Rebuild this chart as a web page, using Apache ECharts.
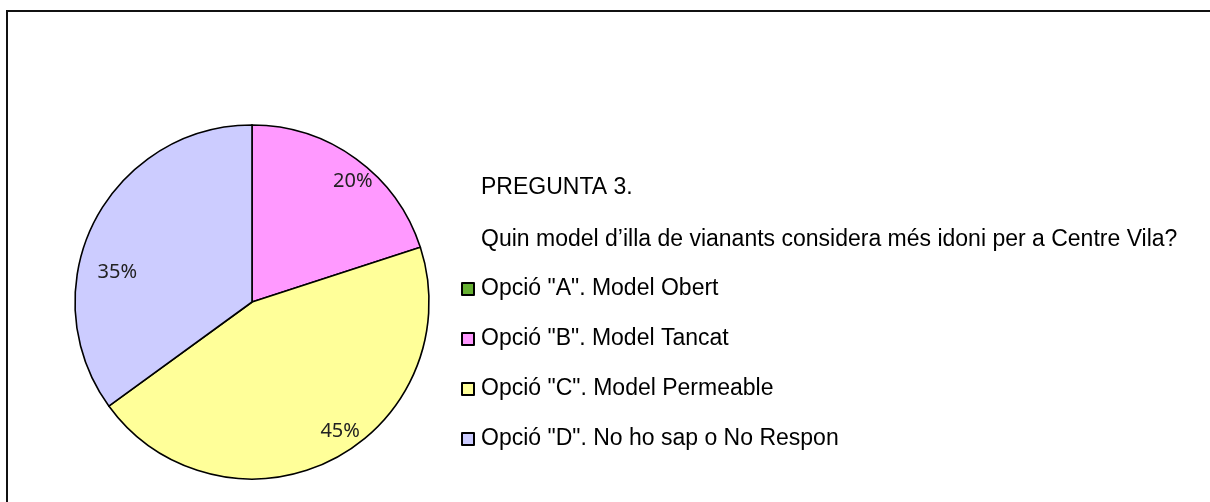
<!DOCTYPE html>
<html>
<head>
<meta charset="utf-8">
<script src="https://cdn.jsdelivr.net/npm/echarts@6/dist/echarts.min.js"></script>
<style>
  html, body { margin: 0; padding: 0; background: #fff; }
  #chart { width: 1210px; height: 502px; }
</style>
</head>
<body>
<div id="chart"></div>
<script>
// data
const categories = ['Opció "A". Model Obert', 'Opció "B". Model Tancat', 'Opció "C". Model Permeable', 'Opció "D". No ho sap o No Respon'];
const percents = [0, 20, 45, 35];
const colors = ['#66b032', '#ff99ff', '#ffff99', '#ccccff'];
const questionTitle = 'PREGUNTA 3.';
const questionText = 'Quin model d\u2019illa de vianants considera més idoni per a Centre Vila?';

// small nudges so the percentages sit where the spreadsheet put them
const labelNudge = [[0, 0], [10, 4], [18, -8], [3, 40]];

const pieData = categories.map((name, i) => ({
  name: name,
  value: percents[i],
  itemStyle: { color: colors[i] }
}));

const chart = echarts.init(document.getElementById('chart'));
chart.setOption({
  animation: false,
  title: {
    text: questionTitle,
    subtext: questionText,
    left: 476,
    top: 171,
    itemGap: 29,
    textStyle: { fontFamily: 'Liberation Sans', fontSize: 23, fontWeight: 'normal', color: '#000' },
    subtextStyle: { fontFamily: 'Liberation Sans', fontSize: 23, color: '#000' }
  },
  legend: {
    orient: 'vertical',
    left: 456,
    top: 272,
    itemWidth: 12,
    itemHeight: 12,
    itemGap: 26,
    icon: 'rect',
    selectedMode: false,
    itemStyle: { borderColor: '#000', borderWidth: 2 },
    textStyle: { fontFamily: 'Liberation Sans', fontSize: 23, color: '#000', lineHeight: 24, padding: [0, 0, 0, 2] },
    data: categories
  },
  graphic: [{
    type: 'rect',
    shape: { x: 7, y: 11, width: 1220, height: 520 },
    style: { fill: 'none', stroke: '#111', lineWidth: 2 },
    silent: true
  }],
  series: [{
    type: 'pie',
    center: [252, 302],
    radius: 177,
    startAngle: 90,
    clockwise: true,
    label: { show: false },
    labelLine: { show: false },
    itemStyle: { borderColor: '#000', borderWidth: 1.6 },
    emphasis: { disabled: true },
    data: pieData
  }, {
    // transparent ring only used to put the percentages near the rim
    type: 'pie',
    center: [252, 302],
    radius: [126, 177],
    startAngle: 90,
    clockwise: true,
    silent: true,
    itemStyle: { color: 'rgba(0,0,0,0)', borderWidth: 0 },
    label: {
      show: true,
      position: 'inside',
      fontFamily: 'Noto Sans',
      fontSize: 20,
      color: '#222',
      formatter: p => p.value > 0 ? p.value + '%' : ''
    },
    labelLayout: p => ({ dx: labelNudge[p.dataIndex][0], dy: labelNudge[p.dataIndex][1] }),
    labelLine: { show: false },
    emphasis: { disabled: true },
    data: categories.map((name, i) => ({ name: name, value: percents[i] }))
  }]
});
</script>
</body>
</html>
